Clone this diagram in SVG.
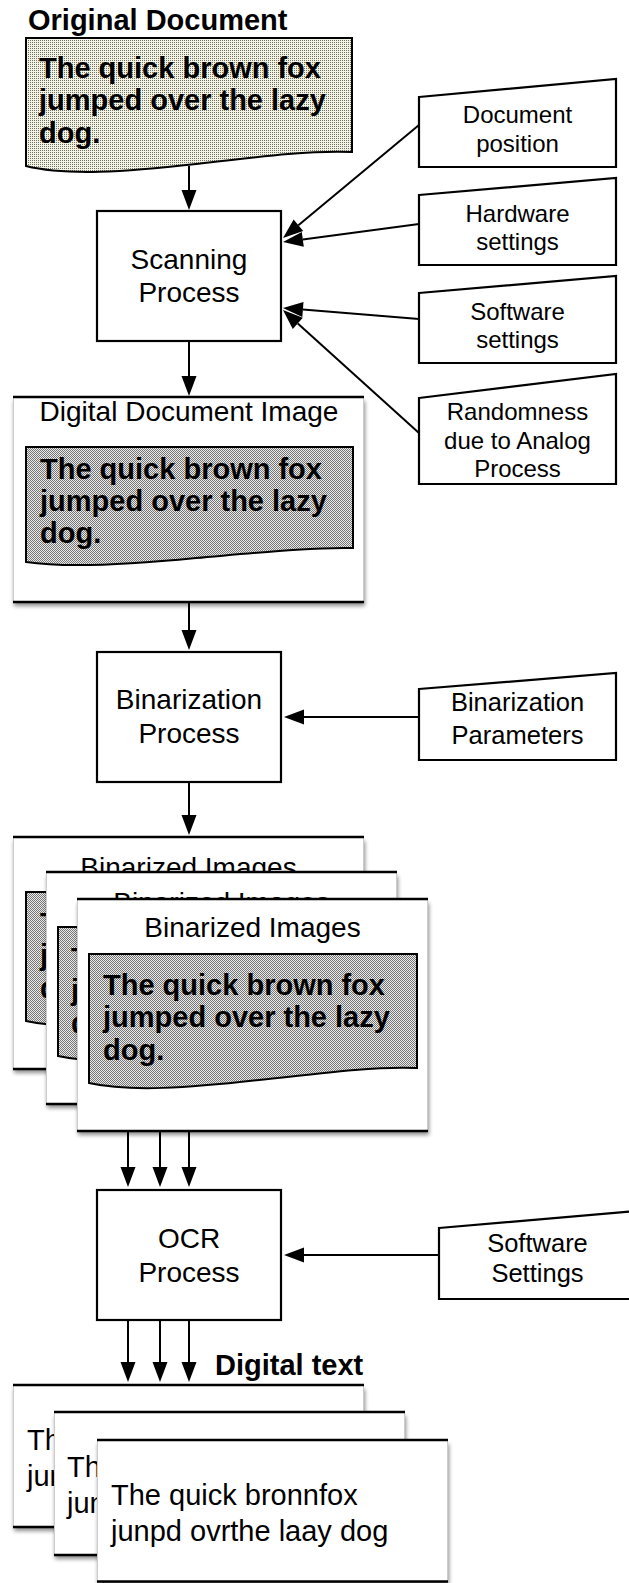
<svg xmlns="http://www.w3.org/2000/svg" width="629" height="1583" viewBox="0 0 629 1583">
<defs>
  <pattern id="stippleLight" width="2" height="2" patternUnits="userSpaceOnUse">
    <rect width="2" height="2" fill="#f3f3e3"/>
    <rect width="1" height="1" fill="#707066"/>
  </pattern>
  <pattern id="stippleDark" width="2" height="2" patternUnits="userSpaceOnUse">
    <rect width="2" height="2" fill="#eaeaea"/>
    <rect width="1" height="1" fill="#767676"/>
    <rect x="1" y="1" width="1" height="1" fill="#767676"/>
  </pattern>
  <filter id="shadow" x="-5%" y="-5%" width="112%" height="125%">
    <feGaussianBlur in="SourceAlpha" stdDeviation="2.2"/>
    <feOffset dx="1" dy="4"/>
    <feComponentTransfer><feFuncA type="linear" slope="0.45"/></feComponentTransfer>
    <feMerge><feMergeNode/><feMergeNode in="SourceGraphic"/></feMerge>
  </filter>
  <marker id="arrow" markerUnits="userSpaceOnUse" markerWidth="20" markerHeight="15" refX="0" refY="7.5" orient="auto" overflow="visible">
    <path d="M0,0 L20,7.5 L0,15 Z" fill="#000"/>
  </marker>
</defs>
<style>
  .proc { fill:#fff; stroke:#000; stroke-width:2.2; }
  .input { fill:#fff; stroke:#000; stroke-width:2.2; stroke-linejoin:miter; }
  .doc { stroke:#000; stroke-width:2; }
  .docL { fill:url(#stippleLight); }
  .docD { fill:url(#stippleDark); }
  .sheet { fill:#fff; filter:url(#shadow); }
  .side { stroke:#cccccc; stroke-width:1; }
  .edge { stroke:#000; stroke-width:2.5; }
  .t { font-family:"Liberation Sans", Arial, Helvetica, sans-serif; fill:#000; }
  .c { text-anchor:middle; }
  .f28 { font-size:28px; }
  .f29 { font-size:29px; }
  .f24 { font-size:24px; }
  .f25 { font-size:25.5px; }
  .b { font-weight:bold; }
  .conn line { stroke:#000; stroke-width:2; fill:none; marker-end:url(#arrow); }
</style>

<!-- source document -->
<g id="original-document">
  <text class="t b f29" x="28" y="30">Original Document</text>
  <path class="doc docL" d="M26,38 H352 V152 C315,150 265,156 196,164 C126,172 66,176 26,166 Z"/>
  <text class="t b f29" x="39" y="78">The quick brown fox</text>
  <text class="t b f29" x="39" y="110">jumped over the lazy</text>
  <text class="t b f29" x="39" y="143">dog.</text>
</g>

<!-- scanning stage -->
<g id="scanning-process">
  <rect class="proc" x="97" y="211" width="184" height="130"/>
  <text class="t c f28" x="189" y="269">Scanning</text>
  <text class="t c f28" x="189" y="302">Process</text>
</g>

<g id="document-position">
  <path class="input" d="M419,97 L616,79 L616,167 L419,167 Z"/>
  <text class="t c f24" x="517.5" y="123">Document</text>
  <text class="t c f24" x="517.5" y="152">position</text>
</g>
<g id="hardware-settings">
  <path class="input" d="M419,195 L616,178 L616,265 L419,265 Z"/>
  <text class="t c f24" x="517.5" y="222">Hardware</text>
  <text class="t c f24" x="517.5" y="250">settings</text>
</g>
<g id="software-settings">
  <path class="input" d="M419,293 L616,276 L616,363 L419,363 Z"/>
  <text class="t c f24" x="517.5" y="320">Software</text>
  <text class="t c f24" x="517.5" y="348">settings</text>
</g>
<g id="randomness">
  <path class="input" d="M419,398 L616,374 L616,484 L419,484 Z"/>
  <text class="t c f24" x="517.5" y="420">Randomness</text>
  <text class="t c f24" x="517.5" y="449">due to Analog</text>
  <text class="t c f24" x="517.5" y="477">Process</text>
</g>

<!-- scanned image -->
<g id="digital-document-image">
  <rect class="sheet" x="13" y="397" width="351" height="205"/>
  <line class="side" x1="13.5" y1="397" x2="13.5" y2="602"/>
  <line class="side" x1="363.5" y1="397" x2="363.5" y2="602"/>
  <line class="edge" x1="13" y1="397" x2="364" y2="397"/>
  <line class="edge" x1="13" y1="602" x2="364" y2="602"/>
  <text class="t c f28" x="189" y="421">Digital Document Image</text>
  <path class="doc docD" d="M26,447 H353 V548 C316,547 266,552 196,558 C126,565 66,568 26,562 Z"/>
  <text class="t b f29" x="40" y="479">The quick brown fox</text>
  <text class="t b f29" x="40" y="511">jumped over the lazy</text>
  <text class="t b f29" x="40" y="543">dog.</text>
</g>

<!-- binarization stage -->
<g id="binarization-process">
  <rect class="proc" x="97" y="652" width="184" height="130"/>
  <text class="t c f28" x="189" y="709">Binarization</text>
  <text class="t c f28" x="189" y="743">Process</text>
</g>
<g id="binarization-parameters">
  <path class="input" d="M419,689 L616,673 L616,760 L419,760 Z"/>
  <text class="t c f25" x="517.5" y="711">Binarization</text>
  <text class="t c f25" x="517.5" y="744">Parameters</text>
</g>

<!-- stack of binarized images (back sheets only show their left strip) -->
<g id="binarized-image-1">
  <rect class="sheet" x="13" y="837" width="351" height="232"/>
  <line class="side" x1="13.5" y1="837" x2="13.5" y2="1069"/>
  <line class="side" x1="363.5" y1="837" x2="363.5" y2="1069"/>
  <line class="edge" x1="13" y1="837" x2="364" y2="837"/>
  <line class="edge" x1="13" y1="1069" x2="364" y2="1069"/>
  <text class="t c f28" x="188.5" y="877">Binarized Images</text>
  <path class="doc docD" d="M26,892 H354 V1006 C317,1004 267,1010 196,1018 C126,1026 66,1030 26,1021 Z"/>
  <text class="t b f29" x="40" y="933">T</text>
  <text class="t b f29" x="40" y="965">j</text>
  <text class="t b f29" x="40" y="998">d</text>
</g>
<g id="binarized-image-2">
  <rect class="sheet" x="46" y="872" width="351" height="232"/>
  <line class="side" x1="46.5" y1="872" x2="46.5" y2="1104"/>
  <line class="side" x1="396.5" y1="872" x2="396.5" y2="1104"/>
  <line class="edge" x1="46" y1="872" x2="397" y2="872"/>
  <line class="edge" x1="46" y1="1104" x2="397" y2="1104"/>
  <text class="t c f28" x="221.5" y="912">Binarized Images</text>
  <path class="doc docD" d="M58,927 H386 V1041 C349,1039 299,1045 228,1053 C158,1061 98,1065 58,1056 Z"/>
  <text class="t b f29" x="71" y="968">T</text>
  <text class="t b f29" x="71" y="1000">j</text>
  <text class="t b f29" x="71" y="1033">d</text>
</g>
<g id="binarized-image-3">
  <rect class="sheet" x="77" y="899" width="351" height="232"/>
  <line class="side" x1="77.5" y1="899" x2="77.5" y2="1131"/>
  <line class="side" x1="427.5" y1="899" x2="427.5" y2="1131"/>
  <line class="edge" x1="77" y1="899" x2="428" y2="899"/>
  <line class="edge" x1="77" y1="1131" x2="428" y2="1131"/>
  <text class="t c f28" x="252.5" y="937">Binarized Images</text>
  <path class="doc docD" d="M89,954 H417 V1068 C380,1066 330,1072 259,1080 C189,1088 129,1092 89,1083 Z"/>
  <text class="t b f29" x="103" y="995">The quick brown fox</text>
  <text class="t b f29" x="103" y="1027">jumped over the lazy</text>
  <text class="t b f29" x="103" y="1060">dog.</text>
</g>

<!-- recognition stage -->
<g id="ocr-process">
  <rect class="proc" x="97" y="1190" width="184" height="130"/>
  <text class="t c f28" x="189" y="1248">OCR</text>
  <text class="t c f28" x="189" y="1282">Process</text>
</g>
<g id="ocr-software-settings">
  <path class="input" d="M439,1228 L636,1211 L636,1299 L439,1299 Z"/>
  <text class="t c f25" x="537.5" y="1252">Software</text>
  <text class="t c f25" x="537.5" y="1282">Settings</text>
</g>

<!-- recognised text outputs -->
<g id="digital-text">
  <text class="t b f29" x="215" y="1375">Digital text</text>
  <g id="digital-text-1">
    <rect class="sheet" x="13" y="1385" width="351" height="142"/>
    <line class="side" x1="13.5" y1="1385" x2="13.5" y2="1527"/>
    <line class="side" x1="363.5" y1="1385" x2="363.5" y2="1527"/>
    <line class="edge" x1="13" y1="1385" x2="364" y2="1385"/>
    <line class="edge" x1="13" y1="1527" x2="364" y2="1527"/>
    <text class="t f29" x="27" y="1450">Th</text>
    <text class="t f29" x="27" y="1486">jun</text>
  </g>
  <g id="digital-text-2">
    <rect class="sheet" x="54" y="1412" width="351" height="143"/>
    <line class="side" x1="54.5" y1="1412" x2="54.5" y2="1555"/>
    <line class="side" x1="404.5" y1="1412" x2="404.5" y2="1555"/>
    <line class="edge" x1="54" y1="1412" x2="405" y2="1412"/>
    <line class="edge" x1="54" y1="1555" x2="405" y2="1555"/>
    <text class="t f29" x="67" y="1477">Th</text>
    <text class="t f29" x="67" y="1513">jun</text>
  </g>
  <g id="digital-text-3">
    <rect class="sheet" x="97" y="1440" width="351" height="142"/>
    <line class="side" x1="97.5" y1="1440" x2="97.5" y2="1582"/>
    <line class="side" x1="447.5" y1="1440" x2="447.5" y2="1582"/>
    <line class="edge" x1="97" y1="1440" x2="448" y2="1440"/>
    <line class="edge" x1="97" y1="1581.5" x2="448" y2="1581.5"/>
    <text class="t f29" x="111" y="1505">The quick bronnfox</text>
    <text class="t f29" x="111" y="1541">junpd ovrthe laay dog</text>
  </g>
</g>

<!-- connectors -->
<g id="connectors" class="conn">
  <line x1="189" y1="166" x2="189" y2="190"/>
  <line x1="419" y1="125" x2="298.4" y2="225.2"/>
  <line x1="419" y1="224" x2="302.8" y2="239.4"/>
  <line x1="419" y1="319" x2="302.9" y2="309.6"/>
  <line x1="419" y1="433" x2="297.8" y2="323.4"/>
  <line x1="189" y1="341" x2="189" y2="376"/>
  <line x1="189" y1="603" x2="189" y2="630"/>
  <line x1="419" y1="717" x2="304" y2="717"/>
  <line x1="189" y1="782" x2="189" y2="815"/>
  <line x1="128" y1="1132" x2="128" y2="1167"/>
  <line x1="160" y1="1132" x2="160" y2="1167"/>
  <line x1="189" y1="1132" x2="189" y2="1167"/>
  <line x1="439" y1="1255" x2="304" y2="1255"/>
  <line x1="128" y1="1320" x2="128" y2="1362"/>
  <line x1="160" y1="1320" x2="160" y2="1362"/>
  <line x1="189" y1="1320" x2="189" y2="1362"/>
</g>
</svg>
